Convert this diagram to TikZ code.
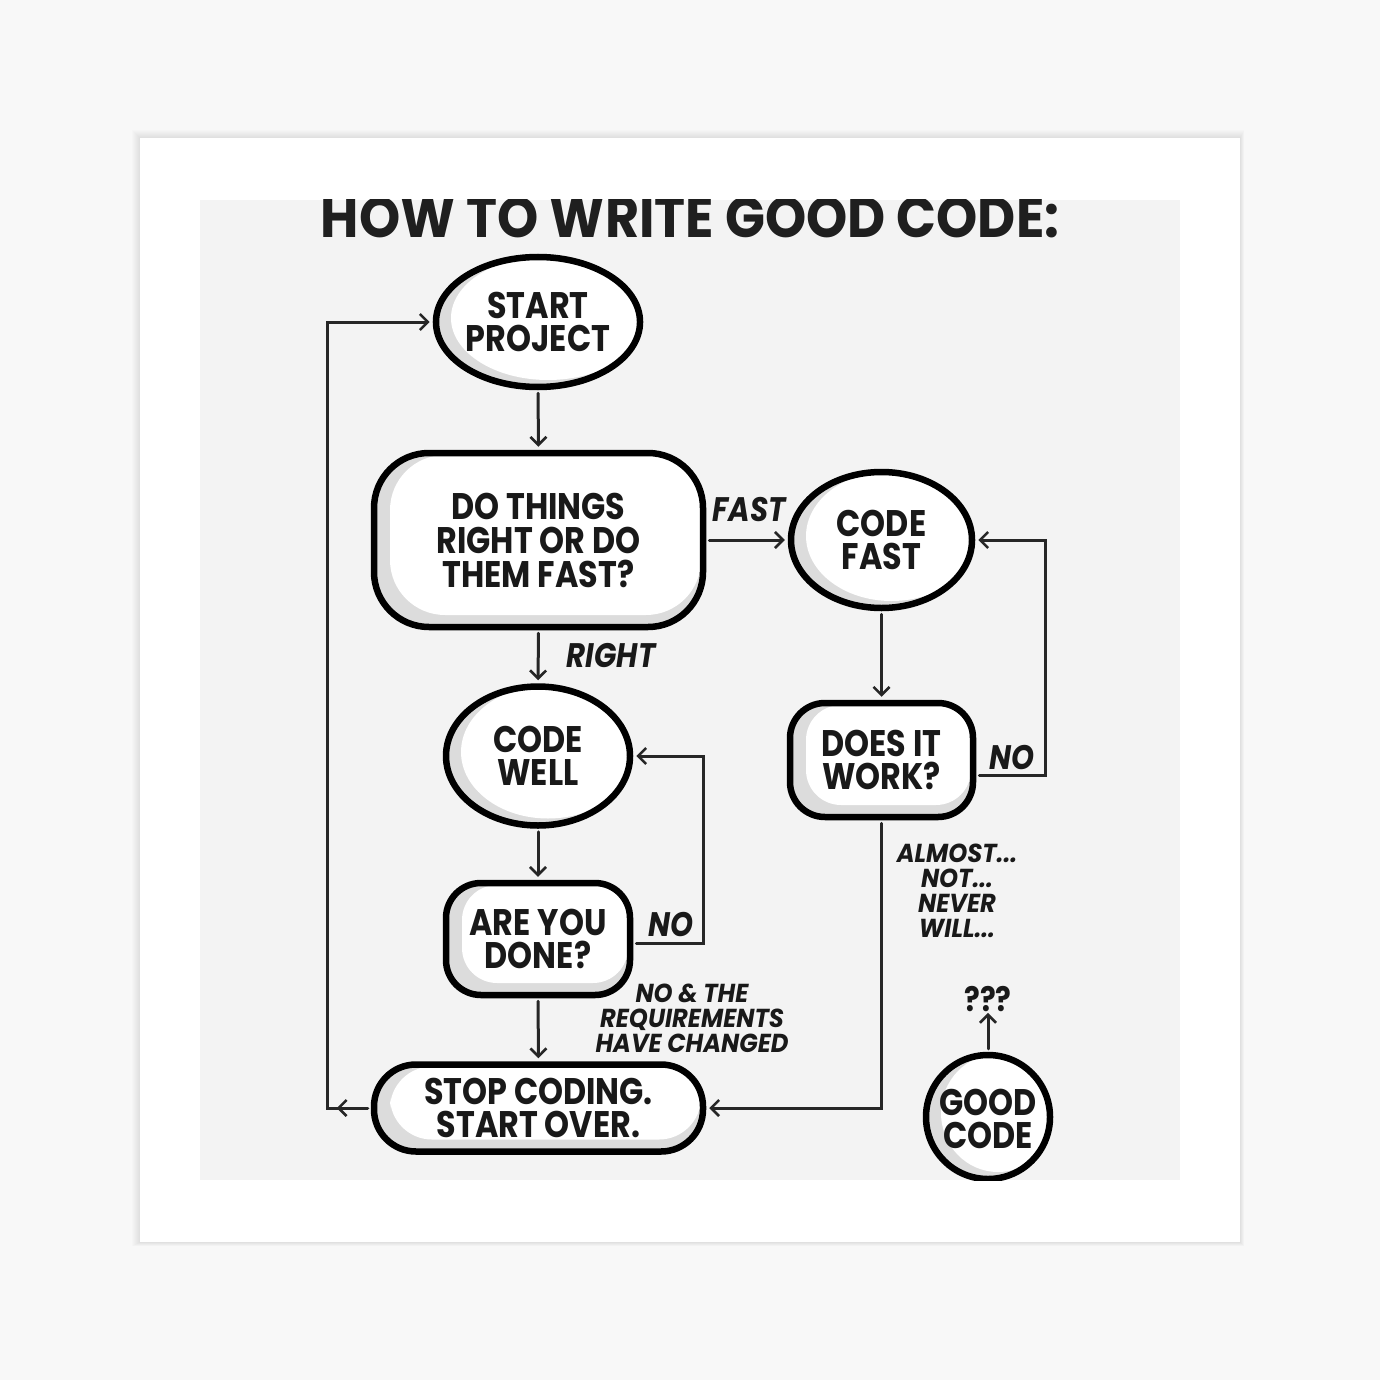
\documentclass[tikz,border=0pt]{standalone}
\usepackage{fontspec}
\setmainfont{Poppins}
\newfontfamily\hand{Poppins}[FakeStretch=0.86]
\newfontfamily\smallhand{Poppins}[FakeStretch=0.93]
\newfontfamily\titlehand{Poppins}[FakeStretch=0.92]
\usetikzlibrary{shapes.geometric,arrows.meta,calc,decorations.markings}
\definecolor{bgout}{HTML}{F8F8F8}
\definecolor{panel}{HTML}{F3F3F3}
\definecolor{crescent}{HTML}{DCDCDC}
\tikzset{
  conn/.style={line width=3pt, draw=black!85, line cap=round,
    -{Straight Barb[length=8pt,width=16pt,line width=2.6pt]}},
  boxline/.style={draw=black, line width=6.5pt, fill=crescent, inner sep=0pt,
    font=\hand\bfseries\fontsize{37}{33.5}\selectfont, align=center, text=black!90},
  ellnode/.style={boxline, ellipse,
    path picture={\fill[white] let \p1=(path picture bounding box.south west),
      \p2=(path picture bounding box.north east) in
      ({(\x1+\x2)/2+10pt},{(\y1+\y2)/2+4pt}) ellipse [x radius={(\x2-\x1)/2-5pt}, y radius={(\y2-\y1)/2-3pt}];}},
  rectnode/.style={boxline, rectangle, rounded corners=#1,
    path picture={\fill[white, rounded corners=#1] let \p1=(path picture bounding box.south west),
      \p2=(path picture bounding box.north east) in
      (\x1+16pt,\y1+12pt) rectangle (\x2-2pt,\y2-2pt);}},
  lab/.style={font=\hand\bfseries\itshape\fontsize{34}{30}\selectfont, inner sep=0pt, text=black!90},
  smalllab/.style={font=\smallhand\bfseries\itshape\fontsize{26}{25}\selectfont, inner sep=0pt, align=center, text=black!90},
}
\begin{document}
\begin{tikzpicture}[x=1pt,y=-1pt]
\useasboundingbox (0,0) rectangle (1380,1380);
\fill[bgout] (0,0) rectangle (1380,1380);
% frame shadow
\foreach \i in {1,...,8}{
  \fill[black, opacity=0.012] (140-\i,138-\i) rectangle (1240+\i*0.5,1242+\i*0.5);
}
\fill[white] (140,138) rectangle (1240,1242);
\fill[panel] (200,200) rectangle (1180,1180);
\begin{scope}
\clip (200,200) rectangle (1180,1180);
% title
\node[font=\titlehand\bfseries\fontsize{57}{57}\selectfont, inner sep=0pt, anchor=base, text=black!88] (title) at (690,238) {HOW TO WRITE GOOD CODE:};
% nodes
\node[ellnode, minimum width=192pt, minimum height=130pt] (start) at (538,322) {START\\PROJECT};
\node[rectnode=55pt, minimum width=329pt, minimum height=174pt, font=\hand\bfseries\fontsize{37}{34}\selectfont] (q1) at (538.5,540) {DO THINGS\\RIGHT OR DO\\THEM FAST?};
\node[ellnode, minimum width=181pt, minimum height=136pt] (fast) at (881.5,540) {CODE\\FAST};
\node[ellnode, minimum width=184pt, minimum height=139pt] (well) at (538,756) {CODE\\WELL};
\node[rectnode=35pt, minimum width=183pt, minimum height=114pt] (works) at (881.5,760) {DOES IT\\WORK?};
\node[rectnode=35pt, minimum width=184pt, minimum height=112pt] (done) at (538,939) {ARE YOU\\DONE?};
\node[rectnode=42pt, minimum width=329pt, minimum height=87pt] (stop) at (538.5,1108) {STOP CODING.\\START OVER.};
\node[ellnode, circle, minimum size=124pt] (good) at (988,1117) {\raisebox{-13pt}[0pt][0pt]{\begin{tabular}{@{}c@{}}GOOD\\[-3pt]CODE\end{tabular}}};
\node[font=\hand\bfseries\fontsize{34}{30}\selectfont, inner sep=1pt, text=black!90] (qq) at (988,999) {???};
% labels
\node[lab] (lfast) at (749,510) {FAST};
\node[lab] (lright) at (611,656) {RIGHT};
\node[lab] (lno1) at (1012,758) {NO};
\node[lab] (lno2) at (671,925) {NO};
\node[smalllab] (lalm) at (957,891) {ALMOST...\\NOT...\\NEVER\\WILL...};
\node[smalllab] (lreq) at (692,1018) {NO \& THE\\REQUIREMENTS\\HAVE CHANGED};
% corner coordinates
\coordinate (cw) at (1045,775);
\coordinate (cd) at (703,943);
\coordinate (cl) at (327,1110);
% connectors
\draw[conn, shorten <=3pt, shorten >=3pt] (start.south) -- (q1.north);
\draw[conn, shorten <=3pt, shorten >=3pt] (q1.east) -- (fast.west);
\draw[conn, shorten <=3pt, shorten >=3pt] (q1.south) -- (well.north);
\draw[conn, shorten <=3pt, shorten >=3pt] (fast.south) -- (works.north);
\draw[conn, shorten <=3pt, shorten >=3pt] (well.south) -- (done.north);
\draw[conn, shorten <=3pt, shorten >=3pt] (done.south) -- (stop.north);
\draw[conn, shorten <=3pt, shorten >=3pt] (works.east |- cw) -- (cw) -- (cw |- fast.east) -- (fast.east);
\draw[conn, shorten <=3pt, shorten >=3pt] (done.east |- cd) -- (cd) -- (cd |- well.east) -- (well.east);
\draw[conn, shorten <=3pt, shorten >=3pt] (works.south) -- (works.south |- stop.east) -- (stop.east);
\draw[conn, shorten <=3pt, shorten >=3pt,
  postaction={decorate},
  decoration={markings, mark=at position 34pt with {\arrow{Straight Barb[length=8pt,width=16pt,line width=2.6pt]}}}]
  (stop.west) -- (cl |- stop.west) -- (cl |- start.west) -- (start.west);
\draw[conn, shorten <=3pt] (good.north) -- (qq.south);
\end{scope}
\end{tikzpicture}
\end{document}
